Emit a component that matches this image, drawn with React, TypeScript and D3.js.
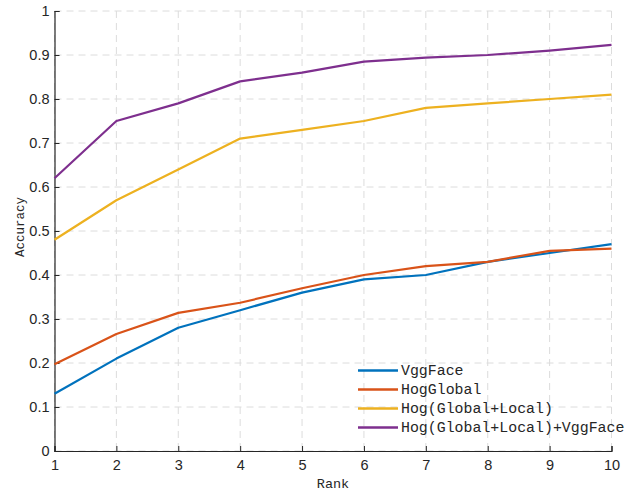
import React, { useRef, useEffect } from "react";
import * as d3 from "d3";

const ranks = [1, 2, 3, 4, 5, 6, 7, 8, 9, 10];
const vggFace = [0.13, 0.21, 0.28, 0.32, 0.36, 0.39, 0.4, 0.43, 0.45, 0.47];
const hogGlobal = [0.197, 0.266, 0.314, 0.337, 0.37, 0.4, 0.42, 0.43, 0.455, 0.46];
const hogGlobalLocal = [0.48, 0.57, 0.64, 0.71, 0.73, 0.75, 0.78, 0.79, 0.8, 0.81];
const hogAllVgg = [0.62, 0.75, 0.79, 0.84, 0.86, 0.885, 0.894, 0.9, 0.91, 0.923];
const seriesNames = ["VggFace", "HogGlobal", "Hog(Global+Local)", "Hog(Global+Local)+VggFace"];
const colors = ["#0072BD", "#D95319", "#EDB120", "#7E2F8E"];
const yTicks = [0, 0.1, 0.2, 0.3, 0.4, 0.5, 0.6, 0.7, 0.8, 0.9, 1];

function App() {
    const svgRef = useRef(null);
    useEffect(() => {
        const svg = d3.select(svgRef.current);
        svg.selectChildren().remove();
        const left = 54.5, right = 611.5, top = 11, bottom = 451;
        const x = d3.scaleLinear().domain([1, 10]).range([left, right]);
        const y = d3.scaleLinear().domain([0, 1]).range([bottom, top]);
        const tickFont = "'Liberation Sans', Arial, sans-serif";
        const mono = "'Liberation Mono', 'Courier New', monospace";

        // grid
        const grid = svg.append("g");
        grid.selectAll("line.gx").data(ranks).enter().append("line")
            .attr("x1", d => x(d)).attr("x2", d => x(d))
            .attr("y1", top).attr("y2", bottom)
            .attr("stroke", "#dcdcdc").attr("stroke-width", 1)
            .attr("stroke-dasharray", "7,5");
        grid.selectAll("line.gy").data(yTicks).enter().append("line")
            .attr("x1", left).attr("x2", right)
            .attr("y1", d => y(d)).attr("y2", d => y(d))
            .attr("stroke", "#dcdcdc").attr("stroke-width", 1)
            .attr("stroke-dasharray", "7,5");

        // axes
        const xAxis = svg.append("g")
            .attr("transform", "translate(0," + bottom + ")")
            .call(d3.axisBottom(x).tickValues(ranks).tickSize(-5).tickPadding(8.5).tickFormat(d3.format("d")));
        const yAxis = svg.append("g")
            .attr("transform", "translate(" + left + ",0)")
            .call(d3.axisLeft(y).tickValues(yTicks).tickSize(-5).tickPadding(5).tickFormat(d => d === 0 ? "0" : d === 1 ? "1" : d3.format(".1f")(d)));
        [xAxis, yAxis].forEach(a => {
            a.select(".domain").attr("stroke", "#262626").attr("stroke-width", 1.2);
            a.selectAll(".tick line").attr("stroke", "#262626");
            a.selectAll("text").attr("fill", "#262626").style("font-family", tickFont).style("font-size", "14.5px");
        });

        const all = [vggFace, hogGlobal, hogGlobalLocal, hogAllVgg];
        const line = d3.line().x((d, i) => x(ranks[i])).y(d => y(d));
        all.forEach((s, k) => {
            svg.append("path").datum(s)
                .attr("fill", "none")
                .attr("stroke", colors[k])
                .attr("stroke-width", 2.2)
                .attr("stroke-linejoin", "round")
                .attr("d", line);
        });

        // legend
        const lg = svg.append("g");
        seriesNames.forEach((n, k) => {
            const yy = 370.5 + k * 19;
            lg.append("line").attr("x1", 358).attr("x2", 398).attr("y1", yy).attr("y2", yy)
                .attr("stroke", colors[k]).attr("stroke-width", 2.4);
            lg.append("text").attr("x", 401).attr("y", yy + 4.5)
                .style("font-family", mono).style("font-size", "14.9px")
                .attr("fill", "#262626").text(n);
        });

        svg.append("text").attr("x", (left + right) / 2).attr("y", 488)
            .attr("text-anchor", "middle").style("font-family", mono).style("font-size", "13.5px")
            .attr("fill", "#262626").text("Rank");
        svg.append("text").attr("transform", "translate(24," + 227 + ") rotate(-90)")
            .attr("text-anchor", "middle").style("font-family", mono).style("font-size", "12.5px")
            .attr("fill", "#262626").text("Accuracy");
    }, []);
    return (
        <svg ref={svgRef} width={633} height={492} style={{ position: "absolute", left: 0, top: 0, background: "#fff" }}></svg>
    );
}

export default App;
